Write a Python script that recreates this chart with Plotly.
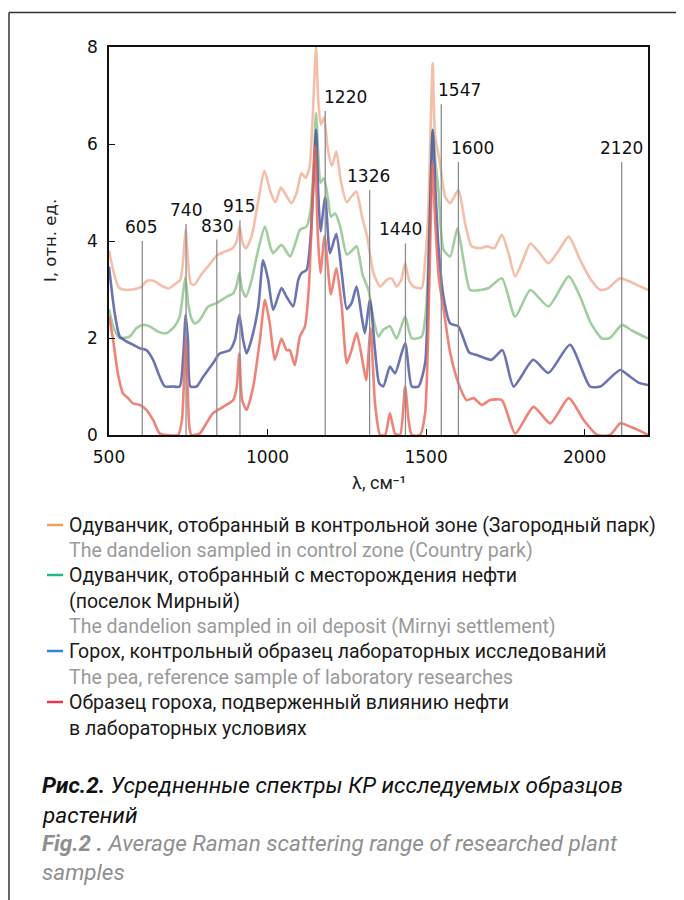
import plotly.graph_objects as go

# ---------------- data ----------------
orange_x = [500, 515, 530, 545, 575, 600, 620, 640, 665, 688, 710, 725, 735, 742, 748, 758, 770, 790, 815, 840,
            865, 890, 903, 912, 922, 932, 950, 970, 990, 1010, 1025, 1042, 1058, 1075, 1092, 1107, 1120, 1132, 1142,
            1153, 1160, 1168, 1178, 1190, 1203, 1217, 1232, 1250, 1265, 1280, 1298, 1314, 1334, 1355, 1376, 1392,
            1407, 1422, 1434, 1446, 1460, 1486, 1497, 1507, 1515, 1521, 1528, 1544, 1560, 1576, 1602, 1623, 1644,
            1671, 1692, 1715, 1739, 1760, 1781, 1805, 1829, 1858, 1886, 1918, 1950, 1986, 2020, 2050, 2075, 2095,
            2113, 2144, 2170, 2200]
orange_y = [3.8, 3.35, 3.05, 3.0, 3.0, 3.05, 3.18, 3.18, 3.08, 3.02, 3.12, 3.2, 3.7, 4.25, 3.7, 3.12, 3.1, 3.3,
            3.5, 3.7, 3.78, 3.85, 4.0, 4.3, 3.95, 3.85, 4.1, 4.8, 5.45, 5.0, 4.8, 5.1, 4.95, 4.78, 5.0, 5.4, 5.3,
            5.5, 6.5, 8.0, 6.9, 6.4, 6.55, 5.9, 5.55, 5.85, 5.2, 4.8, 4.92, 5.02, 4.5, 4.1, 3.34, 3.06, 3.2, 3.23,
            3.06, 3.2, 3.54, 3.2, 3.06, 3.03, 3.6, 4.6, 6.5, 7.67, 6.2, 5.6, 4.92, 4.78, 5.05, 4.37, 3.89, 3.85,
            3.89, 3.85, 4.13, 3.75, 3.27, 3.6, 3.95, 3.75, 3.54, 3.8, 4.09, 3.61, 3.2, 2.99, 3.03, 3.15, 3.23,
            3.16, 3.08, 2.99]

green_x = [500, 515, 534, 565, 586, 607, 628, 655, 681, 707, 723, 733, 741, 750, 760, 771, 786, 813, 839, 871,
           892, 903, 911, 920, 932, 950, 970, 992, 1010, 1018, 1044, 1071, 1090, 1102, 1123, 1135, 1145, 1153,
           1160, 1167, 1178, 1190, 1200, 1213, 1229, 1250, 1266, 1281, 1300, 1318, 1334, 1350, 1365, 1386, 1407,
           1434, 1455, 1486, 1500, 1510, 1521, 1530, 1539, 1555, 1576, 1599, 1618, 1639, 1671, 1697, 1739, 1781,
           1829, 1886, 1950, 1986, 2020, 2055, 2080, 2118, 2150, 2200]
green_y = [2.6, 2.2, 2.0, 2.03, 2.2, 2.27, 2.24, 2.13, 2.1, 2.24, 2.44, 2.9, 3.25, 2.7, 2.4, 2.3, 2.37, 2.65,
           2.72, 2.85, 2.92, 3.1, 3.34, 3.0, 2.85, 3.2, 3.8, 4.3, 3.85, 3.75, 3.92, 3.68, 4.0, 4.23, 4.3, 4.6, 5.5,
           6.64, 5.8, 5.2, 5.3, 4.9, 4.5, 4.57, 4.3, 3.72, 3.8, 3.89, 3.3, 3.0, 2.4, 2.03, 2.17, 2.24, 1.99, 2.44,
           1.99, 2.03, 2.6, 4.2, 6.3, 5.6, 5.05, 3.82, 3.68, 4.26, 3.61, 2.99, 2.99, 3.03, 3.23, 2.44, 2.99, 2.65,
           3.27, 2.85, 2.3, 1.99, 2.0, 2.27, 2.15, 1.99]

blue_x = [500, 518, 534, 555, 576, 597, 618, 639, 660, 676, 700, 723, 734, 742, 749, 757, 776, 797, 828, 849,
          881, 897, 911, 923, 934, 949, 971, 986, 1002, 1018, 1044, 1060, 1081, 1097, 1107, 1123, 1135, 1145, 1153,
          1160, 1167, 1182, 1197, 1217, 1234, 1250, 1265, 1281, 1297, 1307, 1323, 1339, 1352, 1365, 1386, 1402,
          1434, 1455, 1476, 1497, 1510, 1521, 1530, 1539, 1555, 1576, 1602, 1636, 1660, 1706, 1741, 1776, 1838,
          1886, 1954, 2017, 2050, 2112, 2144, 2170, 2200]
blue_y = [3.47, 2.51, 2.03, 1.93, 1.86, 1.79, 1.75, 1.55, 1.2, 1.0, 1.0, 1.0, 1.62, 2.48, 1.96, 1.0, 1.0, 1.2,
          1.48, 1.68, 1.75, 1.96, 2.48, 1.96, 1.68, 1.96, 2.65, 3.6, 3.2, 2.58, 3.03, 2.85, 2.65, 3.2, 3.34, 3.4,
          4.0, 5.2, 6.3, 5.0, 4.2, 4.9, 3.75, 4.15, 3.34, 2.6, 2.72, 3.06, 2.44, 2.1, 2.79, 1.75, 1.07, 1.0, 1.41,
          1.27, 1.89, 1.0, 1.0, 1.48, 4.0, 6.29, 5.0, 3.89, 2.85, 2.3, 2.24, 1.7, 1.65, 1.55, 1.75, 1.0, 1.55,
          1.28, 1.86, 1.0, 1.0, 1.34, 1.2, 1.08, 1.03]

red_x = [500, 513, 528, 544, 560, 576, 597, 618, 639, 660, 681, 718, 730, 737, 742, 748, 753, 760, 786, 807, 828,
         860, 892, 903, 911, 920, 934, 955, 976, 992, 1007, 1023, 1044, 1060, 1070, 1086, 1102, 1118, 1130, 1140,
         1150, 1158, 1167, 1180, 1200, 1217, 1234, 1250, 1265, 1281, 1297, 1311, 1325, 1339, 1355, 1371, 1386,
         1402, 1418, 1434, 1445, 1455, 1481, 1497, 1510, 1520, 1528, 1540, 1555, 1576, 1602, 1628, 1650, 1676,
         1702, 1739, 1781, 1839, 1892, 1950, 1997, 2040, 2080, 2113, 2144, 2170, 2200]
red_y = [2.45, 1.96, 1.27, 0.86, 0.76, 0.65, 0.62, 0.52, 0.31, 0.03, 0.0, 0.0, 0.3, 1.2, 2.0, 1.0, 0.2, 0.0,
         0.03, 0.24, 0.45, 0.58, 0.72, 1.0, 1.68, 0.72, 0.52, 1.0, 1.96, 2.79, 2.3, 1.55, 1.99, 1.75, 1.75, 1.44,
         2.03, 2.24, 3.0, 4.5, 5.95, 4.2, 3.34, 4.1, 2.9, 3.44, 2.65, 1.48, 1.75, 2.1, 1.62, 1.13, 2.2, 0.65, 0.0,
         0.0, 0.45, 0.03, 0.0, 1.0, 0.3, 0.0, 0.0, 0.45, 3.0, 5.6, 4.5, 3.25, 2.6, 1.7, 1.07, 0.72, 0.76, 0.62,
         0.72, 0.72, 0.03, 0.58, 0.24, 0.76, 0.31, 0.0, 0.0, 0.24, 0.17, 0.1, 0.0]

peak_x = [605, 743, 840, 913, 1182, 1322, 1435, 1548, 1602, 2117]
peak_top = [4.0, 4.35, 4.03, 4.43, 6.68, 5.05, 3.95, 6.82, 5.63, 5.63]
peak_labels = ["605", "740", "830", "915", "1220", "1326", "1440", "1547", "1600", "2120"]
peak_label_x = [600, 743, 840, 910, 1246, 1320, 1419, 1607, 1647, 2117]

x_ticks = [500, 1000, 1500, 2000]
y_ticks = [0, 2, 4, 6, 8]

legend_ru = [
    ["Одуванчик, отобранный в контрольной зоне (Загородный парк)"],
    ["Одуванчик, отобранный с месторождения нефти", "(поселок Мирный)"],
    ["Горох, контрольный образец лабораторных исследований"],
    ["Образец гороха, подверженный влиянию нефти", "в лабораторных условиях"],
]
legend_en = [
    "The dandelion sampled in control zone (Country park)",
    "The dandelion sampled in oil deposit (Mirnyi settlement)",
    "The pea, reference sample of laboratory researches",
    None,
]
caption_ru = ["<b>Рис.2.</b> Усредненные спектры КР исследуемых образцов", "растений"]
caption_en = ["<b>Fig.2 .</b> Average Raman scattering range of researched plant", "samples"]

# ---------------- styling / layout ----------------
OFF = 8  # page body margin of the html document
SCREEN_L, SCREEN_T = 109, 47  # plot-area corner as seen on screen
W, HP = 539, 388
L, T = SCREEN_L - OFF, SCREEN_T - OFF
FIG_W, FIG_H = 684, 900


def pxx(p):
    return (p - SCREEN_L) / W


def pxy(p):
    return (SCREEN_T + HP - p) / HP


series = [
    (orange_x, orange_y, "rgba(240,168,140,0.75)"),
    (green_x, green_y, "rgba(130,190,130,0.75)"),
    (blue_x, blue_y, "rgba(70,80,160,0.8)"),
    (red_x, red_y, "rgba(235,100,85,0.8)"),
]
legend_colors = ["#F5A05A", "#22B88C", "#2A8AD8", "#E8384F"]

fig = go.Figure()
for xs, ys, col in series:
    fig.add_trace(go.Scatter(x=xs, y=ys, mode="lines",
                             line=dict(color=col, width=2.6, shape="spline", smoothing=0.6),
                             showlegend=False, hoverinfo="skip"))

for xv, top in zip(peak_x, peak_top):
    fig.add_trace(go.Scatter(x=[xv, xv], y=[0, top], mode="lines",
                             line=dict(color="#8c8c8c", width=1.3),
                             showlegend=False, hoverinfo="skip"))

annotations = []
for lx, top, txt in zip(peak_label_x, peak_top, peak_labels):
    annotations.append(dict(x=lx, y=top, xref="x", yref="y", text=txt, showarrow=False,
                            xanchor="center", yanchor="middle", yshift=14,
                            font=dict(family="DejaVu Sans", size=17, color="#111")))

# axis titles
annotations.append(dict(x=pxx(50), y=pxy(240), xref="paper", yref="paper", text="I, отн. ед.",
                        textangle=-90, showarrow=False, xanchor="center", yanchor="middle",
                        font=dict(family="DejaVu Sans", size=16.5, color="#222")))
annotations.append(dict(x=pxx(379), y=pxy(482), xref="paper", yref="paper", text="λ, см⁻¹",
                        showarrow=False, xanchor="center", yanchor="middle",
                        font=dict(family="Roboto", size=18, color="#222")))

LEG_FONT = "Roboto"
LEG_SIZE = 19.5
shapes = []
rows = [525, 550, 575, 601, 626, 651, 677, 702, 728]
r = 0
for i in range(4):
    yc = rows[r]
    shapes.append(dict(type="line", xref="paper", yref="paper",
                       x0=pxx(47), x1=pxx(63), y0=pxy(yc), y1=pxy(yc),
                       line=dict(color=legend_colors[i], width=2.5)))
    for line in legend_ru[i]:
        annotations.append(dict(x=pxx(67), y=pxy(rows[r]), xref="paper", yref="paper", text=line,
                                showarrow=False, xanchor="left", yanchor="middle",
                                font=dict(family=LEG_FONT, size=LEG_SIZE, color="#1a1a1a")))
        r += 1
    if legend_en[i]:
        annotations.append(dict(x=pxx(67), y=pxy(rows[r]), xref="paper", yref="paper", text=legend_en[i],
                                showarrow=False, xanchor="left", yanchor="middle",
                                font=dict(family=LEG_FONT, size=LEG_SIZE, color="#9a9a9a")))
        r += 1

cap_rows = [785, 815, 843, 872]
for j, line in enumerate(caption_ru + caption_en):
    annotations.append(dict(x=pxx(40), y=pxy(cap_rows[j]), xref="paper", yref="paper",
                            text="<i>" + line + "</i>", showarrow=False, xanchor="left", yanchor="middle",
                            font=dict(family="Roboto", size=22.5,
                                      color="#111" if j < 2 else "#8f8f8f")))

# outer frame (top and left edges)
shapes.append(dict(type="line", xref="paper", yref="paper", x0=pxx(9), x1=pxx(700),
                   y0=pxy(12.5), y1=pxy(12.5), line=dict(color="#333", width=1.5)))
shapes.append(dict(type="line", xref="paper", yref="paper", x0=pxx(9), x1=pxx(9),
                   y0=pxy(12.5), y1=pxy(912), line=dict(color="#333", width=1.5)))

axis_common = dict(showgrid=False, zeroline=False, showline=True, linecolor="#111", linewidth=1.5,
                   mirror=True, ticks="inside", ticklen=6, tickcolor="#111", tickwidth=1.2,
                   tickfont=dict(family="DejaVu Sans", size=17, color="#111"))
fig.update_layout(
    width=FIG_W, height=FIG_H,
    margin=dict(l=L, r=FIG_W - L - W, t=T, b=FIG_H - T - HP, autoexpand=False),
    paper_bgcolor="white", plot_bgcolor="white",
    xaxis=dict(range=[500, 2200], tickvals=x_ticks, ticklabelstandoff=6, **axis_common),
    yaxis=dict(range=[0, 8], tickvals=y_ticks, ticklabelstandoff=6, **axis_common),
    annotations=annotations, shapes=shapes, showlegend=False,
)

fig.write_html("out.html")
